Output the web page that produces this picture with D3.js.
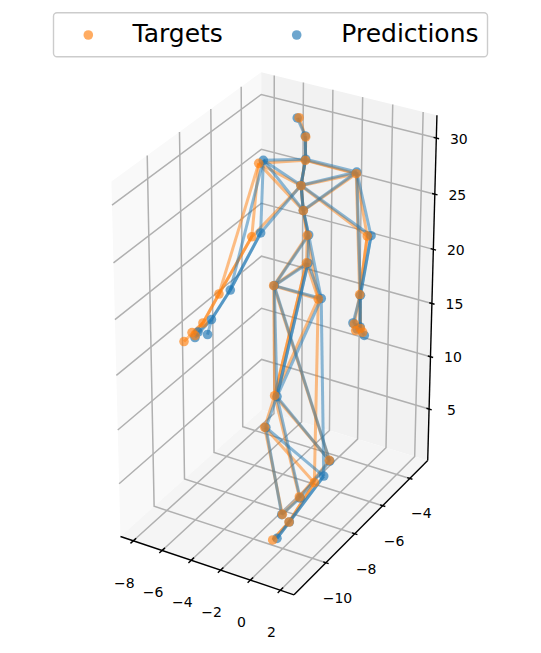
<!DOCTYPE html>
<html>
<head>
<meta charset="utf-8">
<script src="https://cdn.jsdelivr.net/npm/d3@7"></script>
<style>
  html, body { margin: 0; padding: 0; background: #fff; }
  text { font-family: "DejaVu Sans", sans-serif; fill: #000; }
  .tick { font-size: 14px; text-anchor: middle; dominant-baseline: central; }
</style>
</head>
<body>
<div id="chart"></div>
<script>
// axis limits and ticks
var xLim = [-8.9, 2.9];
var yLim = [-12.15, -2.65];
var zLim = [0, 32];
var xTicks = [-8, -6, -4, -2, 0, 2];
var yTicks = [-10, -8, -6, -4];
var zTicks = [5, 10, 15, 20, 25, 30];

// joints, same order in every array
var targetsX = [-4.66, -3.96, -3.68, -5.92, -0.90, -3.62, -3.11, -2.49, -2.19, -5.33, 0.68, -6.76, 0.94, -7.46, -8.47, -8.01, -7.91, 1.40, 1.08, 1.13, 1.50, -4.10, -1.00, -2.52, -2.74, 2.00, 1.31, 0.51, -0.43, 0.17, -0.68];
var targetsY = [-4.3, -4.55, -4.85, -5.75, -4.2, -5.2, -5.55, -5.9, -6.25, -6.8, -5.05, -7.6, -5.8, -8, -8.3, -8.2, -8.1, -6.2, -6.3, -6.25, -6.15, -6.55, -6.65, -8.05, -8.5, -8.9, -9.2, -9.4, -9.6, -9.75, -10];
var targetsZ = [30.94, 29.72, 28.05, 27.94, 27.14, 26.17, 24.49, 22.88, 20.90, 22.70, 23.04, 17.87, 18.70, 15.40, 13.64, 14.54, 14.18, 16.25, 16.66, 16.02, 15.89, 18.44, 18.53, 10.72, 8.24, 7.71, 5.72, 4.29, 2.50, 2.25, 0.50];

var predsX = [-4.78, -3.99, -3.66, -5.61, -0.87, -3.62, -3.11, -2.40, -2.09, -4.73, 0.93, -5.98, 0.99, -6.87, -6.83, -7.81, -7.70, 1.37, 0.99, 1.22, 1.61, -4.06, -0.80, -2.36, -2.66, 2.03, 1.93, 0.56, -0.47, 0.19, -0.39];
var predsY = [-4.3, -4.55, -4.85, -5.75, -4.2, -5.2, -5.55, -5.9, -6.25, -6.8, -5.05, -7.6, -5.8, -8, -8.3, -8.2, -8.1, -6.2, -6.3, -6.25, -6.15, -6.55, -6.65, -8.05, -8.5, -8.9, -9.2, -9.4, -9.6, -9.75, -10];
var predsZ = [30.88, 29.80, 28.15, 28.32, 27.30, 26.21, 24.52, 22.94, 20.90, 23.26, 23.16, 18.53, 18.65, 15.95, 14.94, 14.16, 14.59, 16.38, 16.71, 16.19, 15.64, 18.46, 18.65, 10.70, 8.26, 7.66, 6.61, 4.22, 2.45, 2.26, 0.79];

// bones, the ones listed twice come out stronger in the picture
var bones = [
  [0, 1], [1, 2], [1, 2], [2, 3], [2, 4], [2, 5], [2, 5], [5, 3], [5, 4], [5, 6], [5, 6],
  [6, 3], [6, 4], [6, 7], [6, 7], [5, 9], [5, 10], [3, 9], [3, 11], [9, 11], [9, 11],
  [4, 10], [4, 12], [10, 12], [10, 12], [7, 8], [7, 21], [8, 21], [7, 22], [8, 22], [21, 22],
  [11, 13], [11, 13], [13, 14], [13, 15], [13, 16], [12, 17], [12, 17], [12, 18], [17, 18], [17, 19], [17, 20],
  [21, 23], [22, 23], [8, 23], [8, 23], [21, 25], [22, 26], [23, 24], [23, 27], [23, 25],
  [24, 28], [24, 26], [25, 27], [27, 28], [26, 29], [26, 29], [29, 30], [29, 30]
];

var legendNames = ["Targets", "Predictions"];
var targetColor = "#ff7f0e";
var predColor = "#1f77b4";

var width = 541;
var height = 653;

var svg = d3
  .select("#chart")
  .append("svg")
  .attr("width", width)
  .attr("height", height);

// data to box coordinates
var xScale = d3.scaleLinear().domain(xLim).range([0, 1]);
var yScale = d3.scaleLinear().domain(yLim).range([0, 1]);
var zScale = d3.scaleLinear().domain(zLim).range([0, 1]);

// perspective matrix of the 3d view, box coordinates to pixels
var view = [
  [164.569, 159.494, -15.431, 120.461],
  [40.108, -98.044, -365.278, 536.484],
  [-0.0306, 0.06992, -0.05726, 1]
];

function project(x, y, z) {
  var u = xScale(x), v = yScale(y), w = zScale(z);
  var h = view[2][0] * u + view[2][1] * v + view[2][2] * w + view[2][3];
  return [
    (view[0][0] * u + view[0][1] * v + view[0][2] * w + view[0][3]) / h,
    (view[1][0] * u + view[1][1] * v + view[1][2] * w + view[1][3]) / h
  ];
}

var line3d = d3.line();

var x0 = xLim[0], x1 = xLim[1], y0 = yLim[0], y1 = yLim[1], z0 = zLim[0], z1 = zLim[1];

// panes
var panes = [
  { fill: "#f9f9f9", pts: [[x0, y0, z0], [x0, y1, z0], [x0, y1, z1], [x0, y0, z1]] },
  { fill: "#f2f2f2", pts: [[x0, y1, z0], [x1, y1, z0], [x1, y1, z1], [x0, y1, z1]] },
  { fill: "#f5f5f5", pts: [[x0, y0, z0], [x1, y0, z0], [x1, y1, z0], [x0, y1, z0]] }
];
svg
  .append("g")
  .selectAll("path")
  .data(panes)
  .enter()
  .append("path")
  .attr("d", function(d) {
    return line3d(d.pts.map(function(p) { return project(p[0], p[1], p[2]); })) + "Z";
  })
  .attr("fill", function(d) { return d.fill; });

// grid lines
var gridPaths = [];
xTicks.forEach(function(t) {
  gridPaths.push([[t, y0, z0], [t, y1, z0], [t, y1, z1]]);
});
yTicks.forEach(function(t) {
  gridPaths.push([[x1, t, z0], [x0, t, z0], [x0, t, z1]]);
});
zTicks.forEach(function(t) {
  gridPaths.push([[x1, y1, t], [x0, y1, t], [x0, y0, t]]);
});
svg
  .append("g")
  .selectAll("path")
  .data(gridPaths)
  .enter()
  .append("path")
  .attr("d", function(d) {
    return line3d(d.map(function(p) { return project(p[0], p[1], p[2]); }));
  })
  .attr("fill", "none")
  .attr("stroke", "#b0b0b0")
  .attr("stroke-width", 1.5);

// axis lines
var axisGroup = svg.append("g").attr("fill", "none").attr("stroke", "#000").attr("stroke-width", 1.4);
var axisPaths = [
  [[x0, y0, z0], [x1, y0, z0]],
  [[x1, y0, z0], [x1, y1, z0]],
  [[x1, y1, z0], [x1, y1, z1]]
];
axisPaths.forEach(function(a) {
  axisGroup.append("path").attr("d", line3d(a.map(function(p) { return project(p[0], p[1], p[2]); })));
});

// tick marks and labels
function addTicks(ticks, at, from, to, dx, dy, fmt) {
  ticks.forEach(function(t) {
    var pt = project.apply(null, at(t));
    axisGroup
      .append("path")
      .attr("d", line3d([project.apply(null, from(t)), project.apply(null, to(t))]));
    svg
      .append("text")
      .attr("class", "tick")
      .attr("x", pt[0] + dx)
      .attr("y", pt[1] + dy)
      .text(fmt(t));
  });
}
var fmt = function(t) { return String(t).replace("-", "\u2212"); };

addTicks(xTicks,
  function(t) { return [t, y0, z0]; },
  function(t) { return [t, y0 - 0.18, z0]; },
  function(t) { return [t, y0 + 0.18, z0]; },
  -9, 42, fmt);
addTicks(yTicks,
  function(t) { return [x1, t, z0]; },
  function(t) { return [x1 + 0.18, t, z0]; },
  function(t) { return [x1 - 0.18, t, z0]; },
  11.5, 35, fmt);
addTicks(zTicks,
  function(t) { return [x1, y1, t]; },
  function(t) { return [x1 + 0.18, y1, t]; },
  function(t) { return [x1 - 0.18, y1, t]; },
  22.5, 0.5, fmt);

// skeletons
function addBones(xs, ys, zs, color) {
  svg
    .append("g")
    .selectAll("line")
    .data(bones)
    .enter()
    .append("line")
    .attr("x1", function(d) { return project(xs[d[0]], ys[d[0]], zs[d[0]])[0]; })
    .attr("y1", function(d) { return project(xs[d[0]], ys[d[0]], zs[d[0]])[1]; })
    .attr("x2", function(d) { return project(xs[d[1]], ys[d[1]], zs[d[1]])[0]; })
    .attr("y2", function(d) { return project(xs[d[1]], ys[d[1]], zs[d[1]])[1]; })
    .attr("stroke", color)
    .attr("stroke-opacity", 0.5)
    .attr("stroke-width", 3);
}

function addJoints(xs, ys, zs, color) {
  svg
    .append("g")
    .selectAll("circle")
    .data(xs)
    .enter()
    .append("circle")
    .attr("cx", function(d, i) { return project(xs[i], ys[i], zs[i])[0]; })
    .attr("cy", function(d, i) { return project(xs[i], ys[i], zs[i])[1]; })
    .attr("r", 4.8)
    .attr("fill", color)
    .attr("fill-opacity", 0.65);
}

addBones(targetsX, targetsY, targetsZ, targetColor);
addBones(predsX, predsY, predsZ, predColor);
addJoints(predsX, predsY, predsZ, predColor);
addJoints(targetsX, targetsY, targetsZ, targetColor);

// legend
var legend = svg.append("g");
legend
  .append("rect")
  .attr("x", 53.5)
  .attr("y", 12.8)
  .attr("width", 434)
  .attr("height", 44)
  .attr("rx", 3.5)
  .attr("fill", "#fff")
  .attr("stroke", "#ccc")
  .attr("stroke-width", 1.4);

var legendColors = [targetColor, predColor];
var legendDotX = [88.3, 296.7];
var legendTextX = [132.5, 341.3];
legendNames.forEach(function(name, i) {
  legend
    .append("circle")
    .attr("cx", legendDotX[i])
    .attr("cy", 35)
    .attr("r", 4.8)
    .attr("fill", legendColors[i])
    .attr("fill-opacity", 0.65);
  legend
    .append("text")
    .attr("x", legendTextX[i])
    .attr("y", 41.8)
    .attr("font-size", 25)
    .text(name);
});
</script>
</body>
</html>
